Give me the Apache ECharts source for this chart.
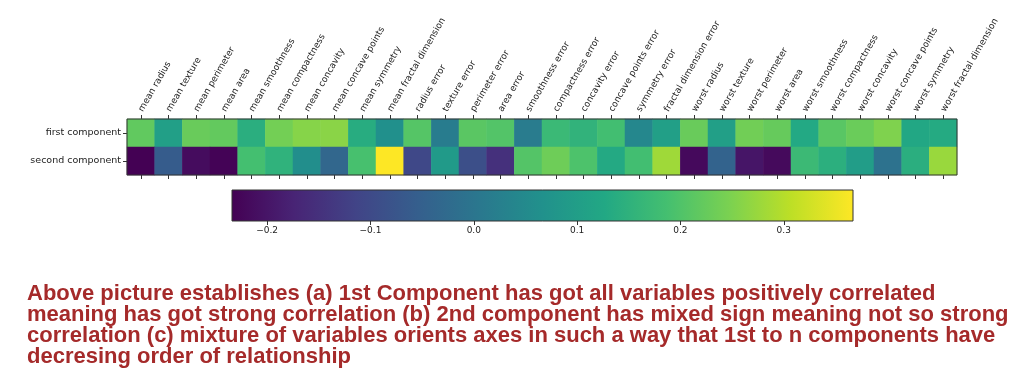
<!DOCTYPE html>
<html>
<head>
<meta charset="utf-8">
<script src="https://cdn.jsdelivr.net/npm/echarts@6/dist/echarts.min.js"></script>
<style>html,body{margin:0;padding:0;background:#fff;}#c{width:1019px;height:381px;}</style>
</head>
<body>
<div id="c"></div>
<script>
var features = ['mean radius','mean texture','mean perimeter','mean area','mean smoothness','mean compactness','mean concavity','mean concave points','mean symmetry','mean fractal dimension','radius error','texture error','perimeter error','area error','smoothness error','compactness error','concavity error','concave points error','symmetry error','fractal dimension error','worst radius','worst texture','worst perimeter','worst area','worst smoothness','worst compactness','worst concavity','worst concave points','worst symmetry','worst fractal dimension'];
var components = ['first component','second component'];
var firstComponent = [0.219,0.104,0.228,0.221,0.143,0.239,0.258,0.261,0.138,0.064,0.206,0.017,0.211,0.203,0.015,0.170,0.154,0.183,0.042,0.103,0.228,0.104,0.237,0.225,0.128,0.210,0.229,0.251,0.123,0.132];
var secondComponent = [-0.234,-0.060,-0.215,-0.231,0.186,0.152,0.060,-0.035,0.190,0.367,-0.106,0.090,-0.089,-0.152,0.204,0.233,0.197,0.130,0.184,0.280,-0.220,-0.045,-0.200,-0.219,0.172,0.144,0.098,-0.008,0.142,0.275];
var colorbarTicks = [-0.2,-0.1,0.0,0.1,0.2,0.3];
var cmin = -0.234, cmax = 0.367;
var caption = 'Above picture establishes (a) 1st Component has got all variables positively correlated\nmeaning has got strong correlation (b) 2nd component has mixed sign meaning not so strong\ncorrelation (c) mixture of variables orients axes in such a way that 1st to n components have\ndecresing order of relationship';

var viridis = ['#440154','#482475','#414487','#355f8d','#2a788e','#21918c','#22a884','#44bf70','#7ad151','#bddf26','#fde725'];

var heatData = [];
[firstComponent, secondComponent].forEach(function(row, r){
  row.forEach(function(v, c){ heatData.push([c, r, v]); });
});

var chart = echarts.init(document.getElementById('c'), null, {renderer:'canvas'});
var font = 'DejaVu Sans';
chart.setOption({
  animation: false,
  backgroundColor: '#fff',
  grid: [
    {left: 127, top: 119, width: 830, height: 56, show: true, borderColor: '#333', borderWidth: 1, backgroundColor: 'transparent', z: 5},
    {left: 232, top: 190, width: 621, height: 31, show: true, borderColor: '#333', borderWidth: 1, backgroundColor: 'transparent', z: 5}
  ],
  xAxis: [
    {type: 'category', gridIndex: 0, position: 'top', data: features,
     axisLine: {show: false}, splitLine: {show: false},
     axisTick: {show: true, alignWithLabel: true, interval: 0, length: 4, lineStyle: {color: '#333'}},
     axisLabel: {rotate: -60, interval: 0, fontFamily: font, fontSize: 9, color: '#222', margin: 8}},
    {type: 'category', gridIndex: 0, position: 'bottom', data: features,
     axisLine: {show: false}, splitLine: {show: false},
     axisTick: {show: true, alignWithLabel: true, interval: 0, length: 4, lineStyle: {color: '#333'}},
     axisLabel: {show: false, interval: 0}},
    {type: 'value', gridIndex: 1, position: 'bottom', min: cmin, max: cmax,
     axisLine: {show: false}, splitLine: {show: false},
     axisTick: {show: true, length: 4, lineStyle: {color: '#333'}, customValues: colorbarTicks},
     axisLabel: {fontFamily: font, fontSize: 9, color: '#222', margin: 5, customValues: colorbarTicks,
       formatter: function(v){ return (v < 0 ? '\u2212' : '') + Math.abs(v).toFixed(1); }}}
  ],
  yAxis: [
    {type: 'category', gridIndex: 0, data: components, inverse: true,
     axisLine: {show: false}, splitLine: {show: false},
     axisTick: {show: true, alignWithLabel: true, length: 4, lineStyle: {color: '#333'}},
     axisLabel: {fontFamily: font, fontSize: 9.5, color: '#222', margin: 6}},
    {type: 'value', gridIndex: 1, min: 0, max: 1, show: false}
  ],
  visualMap: {type: 'continuous', show: false, min: cmin, max: cmax, seriesIndex: 0, dimension: 2,
    inRange: {color: viridis}},
  series: [
    {type: 'heatmap', xAxisIndex: 1, yAxisIndex: 0, data: heatData, itemStyle: {borderWidth: 0}},
    {type: 'custom', xAxisIndex: 2, yAxisIndex: 1, data: [[cmin, cmax]],
     renderItem: function(params, api){
       var p0 = api.coord([api.value(0), 1]);
       var p1 = api.coord([api.value(1), 0]);
       var stops = viridis.map(function(c, i){ return {offset: i/(viridis.length-1), color: c}; });
       return {type: 'rect', shape: {x: p0[0], y: p0[1], width: p1[0]-p0[0], height: p1[1]-p0[1]},
         style: {fill: new echarts.graphic.LinearGradient(0,0,1,0,stops)}};
     }}
  ],
  graphic: [
    {type: 'text', left: 27, top: 283, style: {text: caption, fill: '#a52a2a',
      font: 'bold 22px "Liberation Sans", Arial, sans-serif', lineHeight: 21}}
  ]
});
</script>
</body>
</html>
